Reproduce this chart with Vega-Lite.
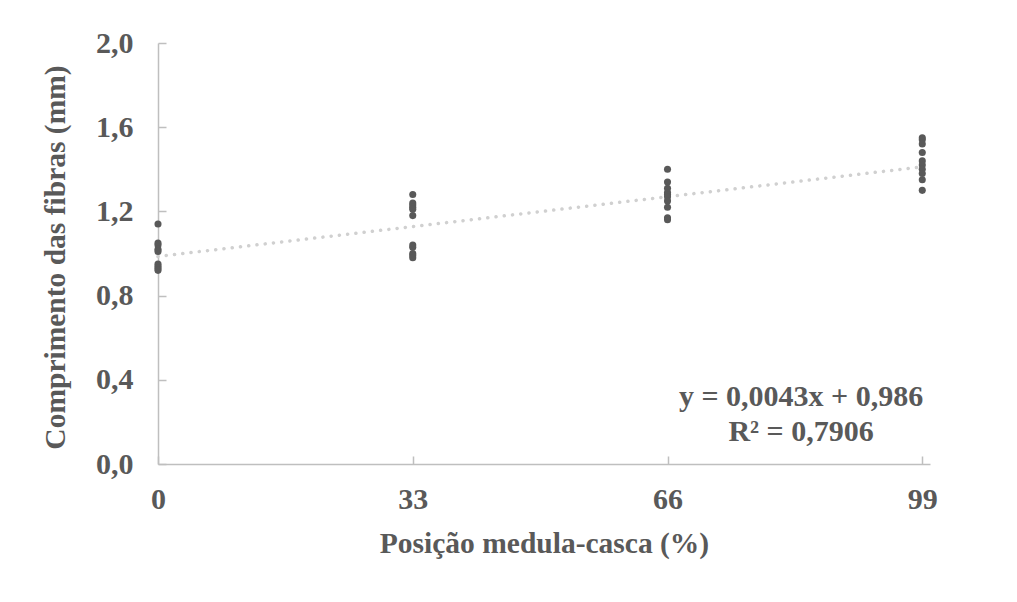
{
  "$schema": "https://vega.github.io/schema/vega-lite/v6.json",
  "width": 772,
  "height": 421,
  "autosize": "none",
  "padding": {"left": 158, "top": 43, "right": 87, "bottom": 138},
  "background": "white",
  "config": {
    "view": {"stroke": null},
    "font": "Liberation Serif",
    "axis": {
      "domainColor": "#bfbfbf",
      "domainWidth": 1.5,
      "tickColor": "#bfbfbf",
      "tickWidth": 1.5,
      "tickSize": -8,
      "grid": false,
      "labelFlush": false,
      "labelFont": "Liberation Serif",
      "labelFontSize": 30,
      "labelFontWeight": "bold",
      "labelColor": "#595959",
      "titleFont": "Liberation Serif",
      "titleFontSize": 29.5,
      "titleFontWeight": "bold",
      "titleColor": "#595959"
    }
  },
  "datasets": {
    "pts": [
      {"pos": 0, "len": 1.14}, {"pos": 0, "len": 1.05}, {"pos": 0, "len": 1.04}, {"pos": 0, "len": 1.02}, {"pos": 0, "len": 1.01},
      {"pos": 0, "len": 0.95}, {"pos": 0, "len": 0.94}, {"pos": 0, "len": 0.93}, {"pos": 0, "len": 0.92},
      {"pos": 33, "len": 1.28}, {"pos": 33, "len": 1.24}, {"pos": 33, "len": 1.23}, {"pos": 33, "len": 1.22}, {"pos": 33, "len": 1.21}, {"pos": 33, "len": 1.18},
      {"pos": 33, "len": 1.04}, {"pos": 33, "len": 1.03}, {"pos": 33, "len": 1.0}, {"pos": 33, "len": 0.99}, {"pos": 33, "len": 0.98},
      {"pos": 66, "len": 1.4}, {"pos": 66, "len": 1.34}, {"pos": 66, "len": 1.31}, {"pos": 66, "len": 1.29}, {"pos": 66, "len": 1.28},
      {"pos": 66, "len": 1.27}, {"pos": 66, "len": 1.25}, {"pos": 66, "len": 1.22}, {"pos": 66, "len": 1.17}, {"pos": 66, "len": 1.16},
      {"pos": 99, "len": 1.55}, {"pos": 99, "len": 1.54}, {"pos": 99, "len": 1.52}, {"pos": 99, "len": 1.48}, {"pos": 99, "len": 1.44},
      {"pos": 99, "len": 1.42}, {"pos": 99, "len": 1.4}, {"pos": 99, "len": 1.38}, {"pos": 99, "len": 1.35}, {"pos": 99, "len": 1.3}
    ],
    "trend": [
      {"pos": 0, "len": 0.986},
      {"pos": 99, "len": 1.4117}
    ],
    "eq": [
      {"pos": 83.3, "len": 0.318, "label": "y = 0,0043x + 0,986"},
      {"pos": 83.3, "len": 0.152, "label": "R² = 0,7906"}
    ]
  },
  "layer": [
    {
      "data": {"name": "trend"},
      "mark": {"type": "line", "color": "#d0d0d0", "strokeWidth": 3.5, "strokeDash": [0.1, 8.2], "strokeCap": "round"},
      "encoding": {
        "x": {
          "field": "pos", "type": "quantitative",
          "scale": {"domain": [0, 100], "nice": false, "zero": false},
          "axis": {
            "values": [0, 33, 66, 99],
            "title": "Posição medula-casca (%)",
            "labelPadding": 28,
            "titleY": 79,
            "titleBaseline": "middle"
          }
        },
        "y": {
          "field": "len", "type": "quantitative",
          "scale": {"domain": [0, 2], "nice": false},
          "axis": {
            "values": [0, 0.4, 0.8, 1.2, 1.6, 2.0],
            "labelExpr": "replace(format(datum.value, '.1f'), '.', ',')",
            "title": "Comprimento das fibras (mm)",
            "labelPadding": 33,
            "titleX": -103,
            "titleY": 214,
            "titleBaseline": "middle",
            "titleAlign": "center",
            "titleAngle": -90
          }
        }
      }
    },
    {
      "data": {"name": "pts"},
      "mark": {"type": "circle", "color": "#595959", "opacity": 1, "size": 50},
      "encoding": {
        "x": {"field": "pos", "type": "quantitative"},
        "y": {"field": "len", "type": "quantitative"}
      }
    },
    {
      "data": {"name": "eq"},
      "mark": {"type": "text", "font": "Liberation Serif", "fontSize": 30, "fontWeight": "bold", "color": "#595959", "align": "center", "baseline": "middle"},
      "encoding": {
        "x": {"field": "pos", "type": "quantitative"},
        "y": {"field": "len", "type": "quantitative"},
        "text": {"field": "label"}
      }
    }
  ]
}
